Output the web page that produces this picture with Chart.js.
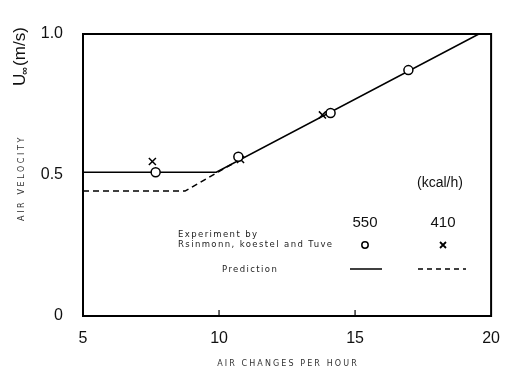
<!DOCTYPE html>
<html>
<head>
<meta charset="utf-8">
<script src="https://cdn.jsdelivr.net/npm/chart.js@4.4.1/dist/chart.umd.min.js"></script>
<style>
  html, body { margin: 0; padding: 0; background: #fff; }
  #wrap { width: 513px; height: 373px; }
</style>
</head>
<body>
<div id="wrap"><canvas id="velChart"></canvas></div>
<script>
// ticks
const xTicks = [5, 10, 15, 20];
const yTickLabels = ['0', '0.5', '1.0'];

// experiment (Rsinmonn, koestel and Tuve)
const exp550X = [7.67, 10.71, 14.1, 16.96];
const exp550Y = [0.51, 0.565, 0.72, 0.872];
const exp410X = [7.55, 10.79, 13.8];
const exp410Y = [0.548, 0.555, 0.713];

// prediction
const pred550X = [5, 9.9, 19.55];
const pred550Y = [0.51, 0.51, 1.0];
const pred410X = [5, 8.75, 10.5];
const pred410Y = [0.443, 0.443, 0.54];

const toPts = (xs, ys) => xs.map((x, i) => ({ x: x, y: ys[i] }));

const FONT = '"Liberation Sans", Arial, sans-serif';
const SMALL = '"DejaVu Sans", sans-serif';

// frame, inner ticks and the free text of the figure
const decorPlugin = {
    id: 'decor',
    afterDraw(chart) {
        const { ctx, chartArea: a, scales } = chart;
        ctx.save();
        ctx.strokeStyle = '#000';
        ctx.lineWidth = 2;
        ctx.strokeRect(a.left, a.top, a.right - a.left, a.bottom - a.top);

        ctx.lineWidth = 1.2;
        [10, 15].forEach(v => {
            const px = scales.x.getPixelForValue(v);
            ctx.beginPath();
            ctx.moveTo(px, a.bottom);
            ctx.lineTo(px, a.bottom - 6);
            ctx.stroke();
        });

        ctx.fillStyle = '#111';
        ctx.textBaseline = 'middle';

        // U∞ (m/s)
        ctx.save();
        ctx.translate(20, 86);
        ctx.rotate(-Math.PI / 2);
        ctx.textAlign = 'left';
        ctx.font = '17px ' + FONT;
        ctx.fillText('U', 0, 0);
        let w = ctx.measureText('U').width;
        ctx.font = 'bold 11px ' + FONT;
        ctx.fillText('∞', w - 1, 5);
        w += ctx.measureText('∞').width;
        ctx.font = '17px ' + FONT;
        ctx.fillText('(m/s)', w, 0);
        ctx.restore();

        // axis titles
        ctx.fillStyle = '#333';
        ctx.save();
        ctx.letterSpacing = '2.6px';
        ctx.font = '8px ' + SMALL;
        ctx.translate(22, 178);
        ctx.rotate(-Math.PI / 2);
        ctx.textAlign = 'center';
        ctx.fillText('AIR VELOCITY', 0, 0);
        ctx.restore();

        ctx.save();
        ctx.letterSpacing = '2.1px';
        ctx.font = '8px ' + SMALL;
        ctx.textAlign = 'center';
        ctx.fillText('AIR CHANGES PER HOUR', 288, 364);
        ctx.restore();

        // legend block
        ctx.fillStyle = '#111';
        ctx.textAlign = 'center';
        ctx.font = '14px ' + FONT;
        ctx.fillText('(kcal/h)', 440, 183);
        ctx.font = '15px ' + FONT;
        ctx.fillText('550', 365, 223);
        ctx.fillText('410', 443, 223);

        ctx.save();
        ctx.fillStyle = '#222';
        ctx.letterSpacing = '1.4px';
        ctx.font = '8.5px ' + SMALL;
        ctx.textAlign = 'left';
        ctx.fillText('Experiment by', 178, 235);
        ctx.fillText('Rsinmonn, koestel and Tuve', 178, 245);
        ctx.fillText('Prediction', 222, 270);
        ctx.restore();

        ctx.lineWidth = 1.5;
        ctx.beginPath();
        ctx.arc(365, 245, 3.2, 0, Math.PI * 2);
        ctx.stroke();
        ctx.lineWidth = 1.8;
        ctx.beginPath();
        ctx.moveTo(440, 242); ctx.lineTo(446, 248);
        ctx.moveTo(446, 242); ctx.lineTo(440, 248);
        ctx.stroke();

        ctx.lineWidth = 1.5;
        ctx.beginPath();
        ctx.moveTo(350, 269); ctx.lineTo(382, 269);
        ctx.stroke();
        ctx.setLineDash([5, 4]);
        ctx.beginPath();
        ctx.moveTo(418, 269); ctx.lineTo(466, 269);
        ctx.stroke();
        ctx.restore();
    }
};

new Chart(document.getElementById('velChart'), {
    type: 'scatter',
    data: {
        datasets: [
            {
                label: '550 experiment',
                data: toPts(exp550X, exp550Y),
                pointStyle: 'circle',
                pointRadius: 4.5,
                pointBorderWidth: 1.5,
                pointBorderColor: '#000',
                pointBackgroundColor: '#fff'
            },
            {
                label: '410 experiment',
                data: toPts(exp410X, exp410Y),
                pointStyle: 'crossRot',
                pointRadius: 5,
                pointBorderWidth: 1.5,
                pointBorderColor: '#000'
            },
            {
                label: '550 prediction',
                data: toPts(pred550X, pred550Y),
                showLine: true,
                borderColor: '#000',
                borderWidth: 1.6,
                pointRadius: 0
            },
            {
                label: '410 prediction',
                data: toPts(pred410X, pred410Y),
                showLine: true,
                borderColor: '#000',
                borderWidth: 1.6,
                borderDash: [6, 4],
                pointRadius: 0
            }
        ]
    },
    options: {
        responsive: true,
        maintainAspectRatio: false,
        animation: false,
        layout: { padding: { top: 34, right: 11, left: 0, bottom: 0 } },
        plugins: {
            legend: { display: false },
            tooltip: { enabled: false }
        },
        scales: {
            x: {
                type: 'linear',
                min: 5,
                max: 20,
                afterBuildTicks: s => { s.ticks = xTicks.map(v => ({ value: v })); },
                afterFit: s => { s.height = 57; },
                grid: { display: false, drawTicks: false },
                border: { display: false },
                ticks: {
                    color: '#111',
                    padding: 13,
                    maxRotation: 0,
                    font: { family: FONT, size: 16 }
                }
            },
            y: {
                min: 0,
                max: 1,
                afterFit: s => { s.width = 83; },
                grid: { display: false, drawTicks: false },
                border: { display: false },
                ticks: {
                    stepSize: 0.5,
                    color: '#111',
                    padding: 20,
                    font: { family: FONT, size: 16 },
                    callback: (v, i) => yTickLabels[i]
                }
            }
        }
    },
    plugins: [decorPlugin]
});
</script>
</body>
</html>
